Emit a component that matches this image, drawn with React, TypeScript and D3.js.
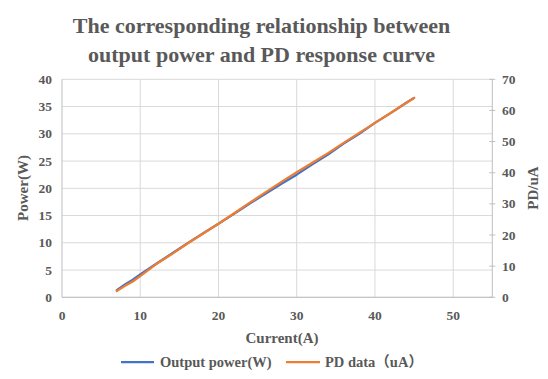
import React from "react";
import * as d3 from "d3";

const currents = [7, 8, 9, 10, 12, 14, 16, 18, 20, 22, 24, 26, 28, 30, 32, 34, 36, 38, 40, 42, 44, 45];
const powerW = [1.3, 2.3, 3.2, 4.2, 6.1, 8.0, 9.9, 11.7, 13.5, 15.3, 17.2, 19.0, 20.8, 22.5, 24.4, 26.2, 28.2, 30.0, 32.0, 33.8, 35.7, 36.6];
const pdUA = [2.0, 3.6, 5.0, 6.8, 10.6, 13.8, 17.2, 20.4, 23.6, 27.0, 30.4, 33.7, 37.0, 40.2, 43.2, 46.3, 49.6, 52.8, 56.0, 59.2, 62.4, 64.0];

const xTicks = [0, 10, 20, 30, 40, 50];
const yLeftTicks = [0, 5, 10, 15, 20, 25, 30, 35, 40];
const yRightTicks = [0, 10, 20, 30, 40, 50, 60, 70];

const titleLines = ["The corresponding relationship between", "output power and PD response curve"];
const seriesNames = ["Output power(W)", "PD data\uFF08uA\uFF09"];

const W = 548, H = 379;
const L = 62, R = 492.3, T = 79.3, B = 297.3;
const TXT = "#595959";
const FONT = "'Liberation Serif', 'Times New Roman', 'Noto Sans CJK SC', serif";

export default function App() {
  const x = d3.scaleLinear().domain([0, 55]).range([L, R]);
  const yL = d3.scaleLinear().domain([0, 40]).range([B, T]);
  const yR = d3.scaleLinear().domain([0, 70]).range([B, T]);

  const linePower = d3.line<number>().x((_, i) => x(currents[i])).y((d) => yL(d));
  const linePD = d3.line<number>().x((_, i) => x(currents[i])).y((d) => yR(d));

  return (
    <svg width={W} height={H} style={{ position: "absolute", left: 0, top: 0, background: "#fff" }} fontFamily={FONT}>
      <rect width={W} height={H} fill="#fff" />
      {titleLines.map((t, i) => (
        <text key={i} x={261.5} y={33 + i * 29} textAnchor="middle" fontSize={22} fontWeight="bold" fill={TXT}>
          {t}
        </text>
      ))}
      {/* grid */}
      {yLeftTicks.map((v) => (
        <line key={"gy" + v} x1={L} x2={R} y1={yL(v)} y2={yL(v)} stroke="#d9d9d9" strokeWidth={1} />
      ))}
      {xTicks.filter((v) => v > 0).map((v) => (
        <line key={"gx" + v} x1={x(v)} x2={x(v)} y1={T} y2={B} stroke="#d9d9d9" strokeWidth={1} />
      ))}
      {/* axes */}
      <line x1={L} x2={L} y1={T} y2={B} stroke="#bfbfbf" />
      <line x1={L} x2={R} y1={B} y2={B} stroke="#bfbfbf" />
      <line x1={R} x2={R} y1={T} y2={B} stroke="#bfbfbf" />
      {yRightTicks.map((v) => (
        <line key={"tr" + v} x1={R - 3} x2={R + 3} y1={yR(v)} y2={yR(v)} stroke="#bfbfbf" />
      ))}
      {/* tick labels */}
      {yLeftTicks.map((v) => (
        <text key={"yl" + v} x={52} y={yL(v) + 4.5} textAnchor="end" fontSize={13.5} fontWeight="bold" fill={TXT}>
          {v}
        </text>
      ))}
      {yRightTicks.map((v) => (
        <text key={"yr" + v} x={502} y={yR(v) + 4.5} textAnchor="start" fontSize={13.5} fontWeight="bold" fill={TXT}>
          {v}
        </text>
      ))}
      {xTicks.map((v) => (
        <text key={"xt" + v} x={x(v)} y={320} textAnchor="middle" fontSize={13.5} fontWeight="bold" fill={TXT}>
          {v}
        </text>
      ))}
      {/* axis titles */}
      <text x={282} y={343} textAnchor="middle" fontSize={15} fontWeight="bold" fill={TXT}>
        Current(A)
      </text>
      <text transform={`translate(28,188) rotate(-90)`} textAnchor="middle" fontSize={15} fontWeight="bold" fill={TXT}>
        Power(W)
      </text>
      <text transform={`translate(538,188) rotate(-90)`} textAnchor="middle" fontSize={15} fontWeight="bold" fill={TXT}>
        PD/uA
      </text>
      {/* series */}
      <path d={linePower(powerW) || ""} fill="none" stroke="#4472C4" strokeWidth={2.25} strokeLinejoin="round" strokeLinecap="round" />
      <path d={linePD(pdUA) || ""} fill="none" stroke="#ED7D31" strokeWidth={2.25} strokeLinejoin="round" strokeLinecap="round" />
      {/* legend */}
      <line x1={121} x2={154} y1={362} y2={362} stroke="#4472C4" strokeWidth={2.25} />
      <text x={160} y={366.5} fontSize={14.5} fontWeight="bold" fill={TXT}>{seriesNames[0]}</text>
      <line x1={286} x2={320} y1={362} y2={362} stroke="#ED7D31" strokeWidth={2.25} />
      <text x={325} y={366.5} fontSize={14.5} fontWeight="bold" fill={TXT}>{seriesNames[1]}</text>
    </svg>
  );
}
